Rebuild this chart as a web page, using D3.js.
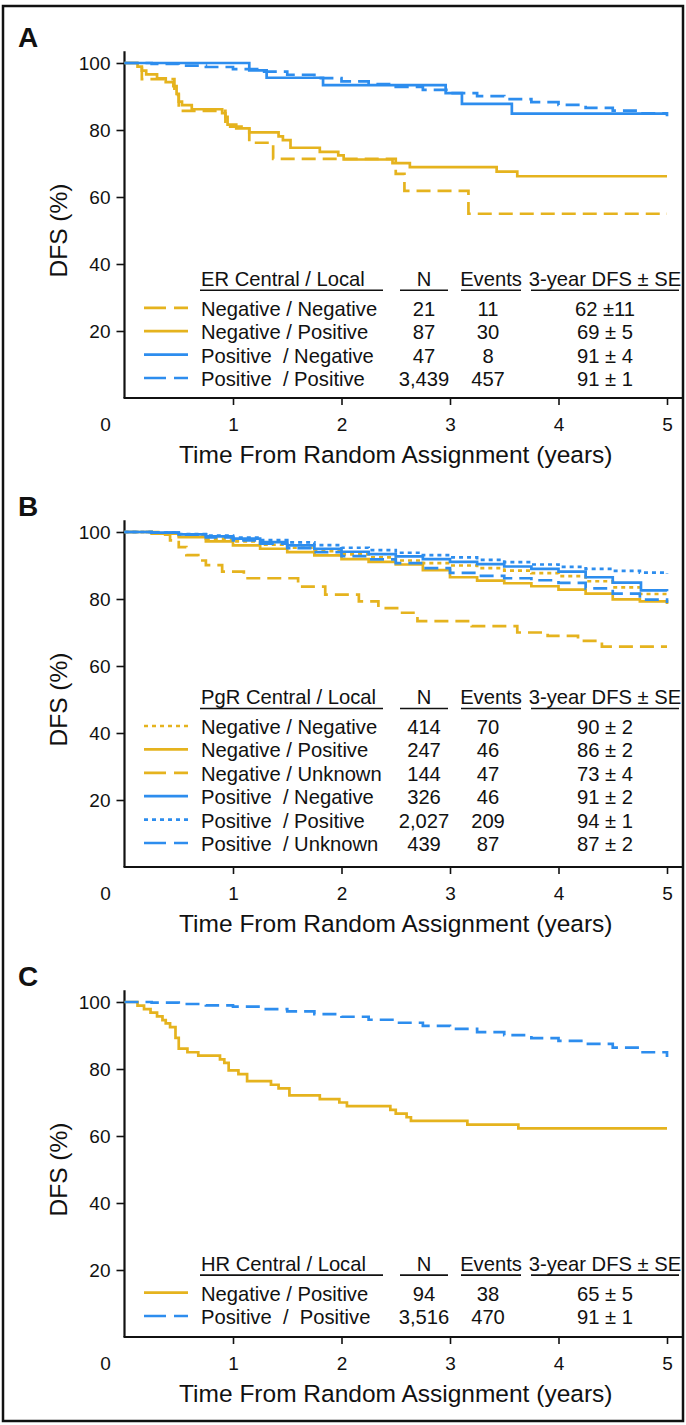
<!DOCTYPE html>
<html>
<head>
<meta charset="utf-8">
<script src="https://cdn.jsdelivr.net/npm/d3@7"></script>
<style>
  body { margin: 0; background: #fff; }
  text { font-family: "Liberation Sans", Arial, sans-serif; fill: #111; }
</style>
</head>
<body>
<div id="chart"></div>
<script>
// ---- panel A : ER ----
const erNegNeg = [[0,100],[0.16,95.2],[0.46,90.5],[0.5,85.7],[0.93,81.0],[1.15,76.2],[1.37,71.4],[2.5,66.9],[2.58,61.8],[3.17,55.0],[5,55.0]];
const erNegPos = [[0,100],[0.12,98.9],[0.16,97.7],[0.2,96.6],[0.3,95.4],[0.38,94.3],[0.45,93.1],[0.48,90.8],[0.5,88.5],[0.53,87.4],[0.62,86.2],[0.9,85.0],[0.93,83.9],[0.95,81.6],[1.03,80.5],[1.15,79.3],[1.42,78.1],[1.46,77.0],[1.53,74.7],[1.8,73.5],[1.97,72.4],[2.02,71.2],[2.47,70.1],[2.63,68.9],[3.43,67.6],[3.62,66.2],[5,66.2]];
const erPosNeg = [[0,100],[1.15,97.8],[1.31,95.6],[1.83,93.4],[2.96,91.0],[3.11,87.8],[3.57,84.9],[5,84.9]];
const erPosPos = [[0,100],[0.25,99.7],[0.5,99.2],[0.75,98.8],[1,98.2],[1.25,97.4],[1.5,96.5],[1.75,95.5],[2,94.5],[2.25,93.7],[2.5,92.9],[2.75,92.0],[3,91.0],[3.25,90.1],[3.5,89.2],[3.75,88.3],[4,87.5],[4.25,86.6],[4.5,85.8],[4.75,85.0],[5,84.1]];
const erLabels = ["Negative / Negative", "Negative / Positive", "Positive  / Negative", "Positive  / Positive"];
const erN = ["21", "87", "47", "3,439"];
const erEvents = ["11", "30", "8", "457"];
const erDfs = ["62 ±11", "69 ± 5", "91 ± 4", "91 ± 1"];

// ---- panel B : PgR ----
const pgrNegNeg = [[0,100],[0.25,99.6],[0.5,99.0],[0.75,98.0],[1,97.2],[1.25,96.2],[1.5,95.3],[1.75,94.3],[2,93.3],[2.25,92.4],[2.5,91.5],[2.75,90.7],[3,90.0],[3.25,89.2],[3.5,88.5],[3.75,87.7],[4,86.8],[4.25,85.3],[4.5,83.5],[4.75,81.5],[5,80.5]];
const pgrNegPos = [[0,100],[0.25,99.5],[0.5,98.5],[0.75,97.2],[1,96.0],[1.25,95.0],[1.5,94.0],[1.75,93.0],[2,91.9],[2.25,91.1],[2.5,90.3],[2.75,88.6],[3,86.5],[3.25,85.5],[3.5,84.7],[3.75,83.8],[4,82.8],[4.25,81.6],[4.5,79.9],[4.75,79.3],[5,78.5]];
const pgrNegUnk = [[0,100],[0.35,99.2],[0.42,97.5],[0.5,95.5],[0.57,93.1],[0.68,91.5],[0.75,90.1],[0.9,88.2],[1.1,86.2],[1.6,83.7],[1.85,81.3],[2.16,79.3],[2.34,77.3],[2.53,75.9],[2.7,73.4],[3.2,71.9],[3.62,70.0],[3.9,69.0],[4.18,67.5],[4.4,65.8],[5,65.8]];
const pgrPosNeg = [[0,100],[0.25,99.8],[0.5,99.3],[0.75,98.7],[1,98.0],[1.25,97.0],[1.5,96.0],[1.75,95.0],[2,94.1],[2.25,93.4],[2.5,92.7],[2.75,91.9],[3,91.1],[3.25,90.4],[3.5,89.7],[3.75,89.0],[4,88.2],[4.25,86.5],[4.5,84.9],[4.76,82.6],[5,82.3]];
const pgrPosPos = [[0,100],[0.25,99.8],[0.5,99.4],[0.75,98.9],[1,98.3],[1.25,97.6],[1.5,96.9],[1.75,96.1],[2,95.3],[2.25,94.6],[2.5,93.8],[2.75,93.1],[3,92.4],[3.25,91.7],[3.5,91.0],[3.75,90.3],[4,89.6],[4.25,89.0],[4.5,88.4],[4.75,87.9],[5,87.5]];
const pgrPosUnk = [[0,100],[0.25,99.8],[0.5,99.2],[0.75,98.4],[1,97.5],[1.25,96.5],[1.5,95.2],[1.75,94.0],[2,92.8],[2.25,91.8],[2.5,90.7],[2.75,89.2],[3,87.8],[3.25,86.9],[3.5,86.2],[3.75,85.6],[4,84.8],[4.25,83.2],[4.5,81.6],[4.75,79.8],[5,78.8]];
const pgrLabels = ["Negative / Negative", "Negative / Positive", "Negative / Unknown", "Positive  / Negative", "Positive  / Positive", "Positive  / Unknown"];
const pgrN = ["414", "247", "144", "326", "2,027", "439"];
const pgrEvents = ["70", "46", "47", "46", "209", "87"];
const pgrDfs = ["90 ± 2", "86 ± 2", "73 ± 4", "91 ± 2", "94 ± 1", "87 ± 2"];

// ---- panel C : HR ----
const hrNegPos = [[0,100],[0.12,98.9],[0.18,97.9],[0.24,96.8],[0.3,95.7],[0.35,94.6],[0.38,93.6],[0.42,92.5],[0.47,89.3],[0.5,86.1],[0.58,85.0],[0.68,84.0],[0.88,82.9],[0.92,81.8],[0.96,79.6],[1.05,78.5],[1.13,76.4],[1.35,75.3],[1.42,74.2],[1.52,72.1],[1.8,71.0],[1.98,70.0],[2.05,68.9],[2.45,67.8],[2.5,66.7],[2.6,65.6],[2.64,64.5],[3.16,63.4],[3.63,62.3],[5,62.3]];
const hrPosPos = [[0,100],[0.25,99.8],[0.5,99.4],[0.75,99.0],[1,98.6],[1.25,97.9],[1.5,97.2],[1.75,96.4],[2,95.6],[2.25,94.7],[2.5,93.8],[2.75,92.9],[3,92.0],[3.25,91.0],[3.5,90.1],[3.75,89.2],[4,88.4],[4.25,87.5],[4.5,86.4],[4.75,85.0],[5,83.6]];
const hrLabels = ["Negative / Positive", "Positive  /  Positive"];
const hrN = ["94", "3,516"];
const hrEvents = ["38", "470"];
const hrDfs = ["65 ± 5", "91 ± 1"];

const yTicks = [20, 40, 60, 80, 100];
const xTicks = [1, 2, 3, 4, 5];
const colHeads = ["N", "Events", "3-year DFS ± SE"];

// stijl per reeks, los van de waarden
const goud = "#E5B31E", blauw = "#2D8DEE";
const streep = { solid: null, dash: "14,7", dot: "4,4" };

const panels = [
  { letter: "A", top: 0, head: "ER Central / Local", curves: [erNegNeg, erNegPos, erPosNeg, erPosPos],
    labels: erLabels, n: erN, events: erEvents, dfs: erDfs,
    colors: [goud, goud, blauw, blauw], dash: ["dash", "solid", "solid", "dash"], legendBottom: 379 },
  { letter: "B", top: 469, head: "PgR Central / Local", curves: [pgrNegNeg, pgrNegPos, pgrNegUnk, pgrPosNeg, pgrPosPos, pgrPosUnk],
    labels: pgrLabels, n: pgrN, events: pgrEvents, dfs: pgrDfs,
    colors: [goud, goud, goud, blauw, blauw, blauw], dash: ["dot", "solid", "dash", "solid", "dot", "dash"], legendBottom: 375 },
  { letter: "C", top: 939, head: "HR Central / Local", curves: [hrNegPos, hrPosPos],
    labels: hrLabels, n: hrN, events: hrEvents, dfs: hrDfs,
    colors: [goud, blauw], dash: ["solid", "dash"], legendBottom: 378 }
];

const breedte = 686, hoogte = 1425;
const svg = d3.select("#chart").append("svg")
  .attr("width", breedte).attr("height", hoogte);

svg.append("rect")
  .attr("x", 3).attr("y", 6).attr("width", 680).attr("height", 1415)
  .attr("fill", "none").attr("stroke", "#111").attr("stroke-width", 2.5);

const x = d3.scaleLinear().domain([0, 5]).range([124.5, 667]);
const y = d3.scaleLinear().domain([0, 100]).range([398, 63]);
const lijn = d3.line().curve(d3.curveStepAfter).x(d => x(d[0])).y(d => y(d[1]));

panels.forEach(p => {
  const g = svg.append("g").attr("transform", `translate(0,${p.top})`);

  g.append("text").attr("x", 18).attr("y", 47)
    .attr("font-size", 28).attr("font-weight", "bold").text(p.letter);

  // y-as
  const ya = g.append("g").attr("transform", `translate(${x(0)},0)`)
    .call(d3.axisLeft(y).tickValues(yTicks).tickSize(8).tickPadding(6));
  ya.select(".domain").remove();
  ya.selectAll(".tick line").attr("stroke", "#111").attr("stroke-width", 1.6);
  ya.selectAll(".tick text").attr("font-size", 19).attr("font-family", null);
  g.append("line").attr("x1", x(0)).attr("x2", x(0)).attr("y1", y(0)).attr("y2", y(103.5))
    .attr("stroke", "#111").attr("stroke-width", 2.2);

  // x-as
  const xa = g.append("g").attr("transform", `translate(0,${y(0)})`)
    .call(d3.axisBottom(x).tickValues(xTicks).tickFormat(d3.format("d")).tickSize(7).tickPadding(13));
  xa.select(".domain").remove();
  xa.selectAll(".tick line").attr("stroke", "#111").attr("stroke-width", 1.6);
  xa.selectAll(".tick text").attr("font-size", 19).attr("font-family", null);
  g.append("line").attr("x1", x(0) - 1).attr("x2", 683).attr("y1", y(0)).attr("y2", y(0))
    .attr("stroke", "#111").attr("stroke-width", 2.2);
  g.append("text").attr("x", x(0) - 19).attr("y", y(0) + 33)
    .attr("text-anchor", "middle").attr("font-size", 19).text("0");

  g.append("text").attr("x", (x(0) + x(5)) / 2).attr("y", 463)
    .attr("text-anchor", "middle").attr("font-size", 24.5)
    .text("Time From Random Assignment (years)");
  g.append("text").attr("transform", `translate(67,${(y(0) + y(100)) / 2}) rotate(-90)`)
    .attr("text-anchor", "middle").attr("font-size", 24.5).text("DFS (%)");

  // curves
  g.selectAll("path.km").data(p.curves).enter().append("path")
    .attr("class", "km")
    .attr("d", lijn)
    .attr("fill", "none")
    .attr("stroke", (_, i) => p.colors[i])
    .attr("stroke-width", 2.7)
    .attr("stroke-dasharray", (_, i) => streep[p.dash[i]]);

  // legenda
  const nRows = p.labels.length, rowH = 23.4;
  const rowY = i => p.legendBottom - (nRows - 1 - i) * rowH;
  const headY = rowY(0) - 30, underY = rowY(0) - 18.5;
  const fs = 20.2;
  const cols = [
    { text: p.head, x: 201, anchor: "start", line: [200, 383] },
    { text: colHeads[0], x: 424, anchor: "middle", line: [400, 448] },
    { text: colHeads[1], x: 491, anchor: "middle", line: [461, 521] },
    { text: colHeads[2], x: 605, anchor: "middle", line: [531, 679] }
  ];
  cols.forEach(c => {
    g.append("text").attr("x", c.x).attr("y", headY).attr("dy", "0.35em")
      .attr("text-anchor", c.anchor).attr("font-size", fs)
      .attr("textLength", c.anchor === "start" ? null : null).text(c.text);
    g.append("line").attr("x1", c.line[0]).attr("x2", c.line[1])
      .attr("y1", underY).attr("y2", underY).attr("stroke", "#111").attr("stroke-width", 1.6);
  });

  const rows = g.selectAll("g.rij").data(p.labels).enter().append("g")
    .attr("class", "rij").attr("transform", (_, i) => `translate(0,${rowY(i)})`);
  rows.append("line").attr("x1", 144).attr("x2", 188).attr("y1", -1).attr("y2", -1)
    .attr("stroke", (_, i) => p.colors[i]).attr("stroke-width", 2.7)
    .attr("stroke-dasharray", (_, i) => p.dash[i] === "dash" ? "22,8" : streep[p.dash[i]]);
  rows.append("text").attr("x", 201).attr("dy", "0.35em").attr("font-size", fs)
    .style("white-space", "pre").text(d => d);
  rows.append("text").attr("x", 424).attr("dy", "0.35em").attr("font-size", fs)
    .attr("text-anchor", "middle").text((_, i) => p.n[i]);
  rows.append("text").attr("x", 488).attr("dy", "0.35em").attr("font-size", fs)
    .attr("text-anchor", "middle").text((_, i) => p.events[i]);
  rows.append("text").attr("x", 605).attr("dy", "0.35em").attr("font-size", fs)
    .attr("text-anchor", "middle").style("white-space", "pre").text((_, i) => p.dfs[i]);
});
</script>
</body>
</html>
